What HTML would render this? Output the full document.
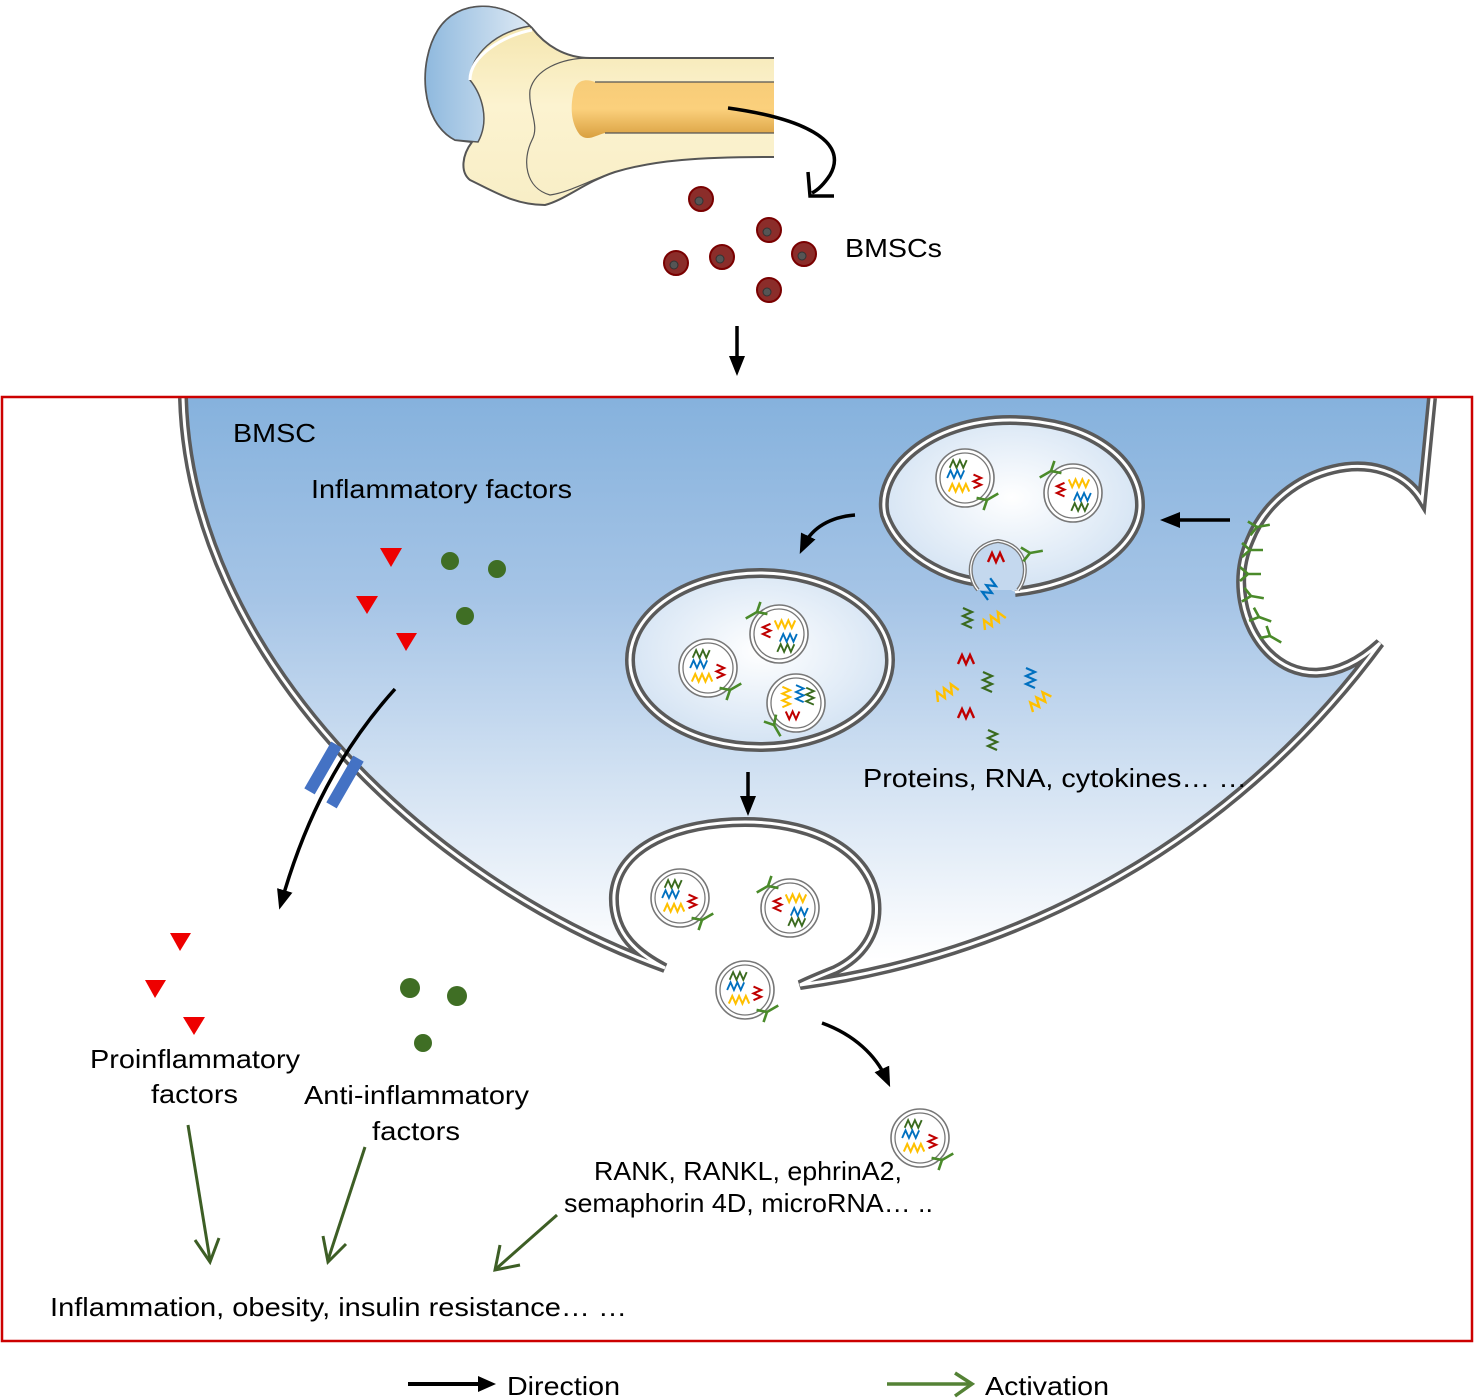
<!DOCTYPE html>
<html><head><meta charset="utf-8"><style>
html,body{margin:0;padding:0;background:#fff;}
svg{display:block;}
text{font-family:"Liberation Sans",sans-serif;font-size:26px;fill:#000;}
</style></head><body>
<svg width="1474" height="1398" viewBox="0 0 1474 1398" xmlns="http://www.w3.org/2000/svg">
<defs>
<linearGradient id="cellg" x1="0" y1="400" x2="0" y2="960" gradientUnits="userSpaceOnUse">
<stop offset="0" stop-color="#86b2dd"/><stop offset="0.35" stop-color="#a5c4e6"/><stop offset="1" stop-color="#ffffff"/></linearGradient>
<radialGradient id="mvb" cx="0.5" cy="0.45" r="0.6"><stop offset="0" stop-color="#ffffff"/><stop offset="1" stop-color="#cfe0f2"/></radialGradient>
<linearGradient id="headg" x1="0" y1="0" x2="1" y2="0"><stop offset="0" stop-color="#8fb9de"/><stop offset="1" stop-color="#dde9f4"/></linearGradient>
<linearGradient id="cavg" x1="0" y1="0" x2="0" y2="1"><stop offset="0" stop-color="#f7cc78"/><stop offset="0.5" stop-color="#fbd07c"/><stop offset="1" stop-color="#d9a040"/></linearGradient>
<linearGradient id="shaftg" x1="0" y1="0" x2="0" y2="1"><stop offset="0" stop-color="#f3e3a8"/><stop offset="0.5" stop-color="#fcf3d0"/><stop offset="1" stop-color="#f8eec6"/></linearGradient>
<marker id="ab" markerWidth="20" markerHeight="20" refX="10" refY="8" orient="auto" markerUnits="userSpaceOnUse" viewBox="0 0 20 16"><path d="M0,0 L20,8 L0,16 Z" fill="#000"/></marker>
<g id="zg"><polyline points="0,0 4,-9 8,0 12,-9 16,0 20,-9" fill="none" stroke="#3a6a1e" stroke-width="2.2"/></g>
<g id="zb"><polyline points="0,0 4,-9 8,0 12,-9 16,0 20,-9" fill="none" stroke="#0070c0" stroke-width="2.2"/></g>
<g id="zr"><polyline points="0,0 4,-9 8,0 12,-9 16,0" fill="none" stroke="#c00000" stroke-width="2.4"/></g>
<g id="zy"><polyline points="0,0 4,-9 8,0 12,-9 16,0 20,-9 24,0" fill="none" stroke="#ffc000" stroke-width="2.4"/></g>
<g id="yy"><path d="M0,0 L0,13 M0,0 L-7,-8 M0,0 L7,-8" fill="none" stroke="#4a8a2a" stroke-width="2.6"/></g>
<g id="ex">
<circle r="29" fill="#fff" stroke="#777" stroke-width="1.6"/>
<circle r="25" fill="none" stroke="#777" stroke-width="1.3"/>
<g transform="scale(0.85)">
<use href="#zg" x="-18" y="-12"/>
<use href="#zb" x="-21" y="0"/>
<use href="#zr" transform="translate(10,-4) rotate(90)"/>
<use href="#zy" x="-19" y="16"/>
</g>
<use href="#yy" transform="translate(22,22) rotate(-120)"/>
</g>
</defs>

<!-- Bone -->
<path d="M775,58 L590,58 C565,58 545,45 532,28 C505,0 458,-2 438,30 C418,62 420,122 455,140 L472,142 C462,155 460,172 470,180 C495,192 515,205 545,205 C565,200 585,182 615,172 C655,160 700,157 775,157 Z" fill="url(#shaftg)" stroke="#555" stroke-width="2"/>
<path d="M530,26 C505,0 458,-2 438,30 C418,62 420,122 455,140 L478,142 C490,120 482,95 470,80 C470,55 495,32 530,26 Z" fill="url(#headg)" stroke="#555" stroke-width="1.5"/>
<path d="M532,30 C505,35 470,55 470,80" fill="none" stroke="#fff" stroke-width="3"/>
<path d="M775,58 L590,58 C560,58 535,70 530,90 C528,110 540,125 532,140 C522,160 525,188 550,195 C570,192 590,180 615,172" fill="none" stroke="#555" stroke-width="1.2"/>
<path d="M775,82 L595,82 C585,78 575,80 573,95 C570,110 572,125 580,135 C588,142 596,135 605,133 L775,133 Z" fill="url(#cavg)"/>
<line x1="595" y1="82" x2="775" y2="82" stroke="#555" stroke-width="1.2"/>
<line x1="605" y1="133" x2="775" y2="133" stroke="#555" stroke-width="1.2"/>
<rect x="774" y="50" width="8" height="115" fill="#fff"/>
<path d="M728,108 C800,118 850,140 830,175 C824,184 818,190 812,193" fill="none" stroke="#000" stroke-width="3.5"/>
<path d="M808,172 L810,196 L834,196" fill="none" stroke="#000" stroke-width="3.5"/>

<!-- BMSCs -->
<g fill="#8b2d2a" stroke="#7a0000" stroke-width="2">
<circle cx="701" cy="199" r="12"/><circle cx="769" cy="230" r="12"/><circle cx="722" cy="257" r="12"/>
<circle cx="804" cy="254" r="12"/><circle cx="676" cy="263" r="12"/><circle cx="769" cy="290" r="12"/></g>
<g fill="#555" stroke="#333" stroke-width="1">
<circle cx="699" cy="201" r="4"/><circle cx="767" cy="232" r="4"/><circle cx="720" cy="259" r="4"/>
<circle cx="802" cy="256" r="4"/><circle cx="674" cy="265" r="4"/><circle cx="767" cy="292" r="4"/></g>
<text x="845" y="257" textLength="97" lengthAdjust="spacingAndGlyphs">BMSCs</text>
<line x1="737" y1="326" x2="737" y2="366" stroke="#000" stroke-width="3.5" marker-end="url(#ab)"/>

<!-- Cell -->
<path d="M183,398 C190,650 420,880 665,968 C640,955 612,935 614,895 C618,845 680,822 745,822 C820,822 870,855 876,900 C880,935 860,958 835,970 C820,976 810,980 800,985 C1050,950 1250,820 1380,643 C1290,725 1215,620 1250,540 C1280,465 1385,440 1422,500 L1432,398 Z" fill="url(#cellg)"/>
<path d="M183,398 C190,650 420,880 665,968 C640,955 612,935 614,895 C618,845 680,822 745,822 C820,822 870,855 876,900 C880,935 860,958 835,970 C820,976 810,980 800,985 C1050,950 1250,820 1380,643 C1290,725 1215,620 1250,540 C1280,465 1385,440 1422,500 L1432,398" fill="none" stroke="#5a5a5a" stroke-width="10"/>
<path d="M183,398 C190,650 420,880 665,968 C640,955 612,935 614,895 C618,845 680,822 745,822 C820,822 870,855 876,900 C880,935 860,958 835,970 C820,976 810,980 800,985 C1050,950 1250,820 1380,643 C1290,725 1215,620 1250,540 C1280,465 1385,440 1422,500 L1432,398" fill="none" stroke="#fff" stroke-width="3"/>
<rect x="0" y="380" width="1474" height="16" fill="#fff"/>
<rect x="2" y="397" width="1470" height="944" fill="none" stroke="#cc0000" stroke-width="2.5"/>

<text x="233" y="442" textLength="83" lengthAdjust="spacingAndGlyphs">BMSC</text>
<text x="311" y="498" textLength="261" lengthAdjust="spacingAndGlyphs">Inflammatory factors</text>

<g fill="#ee0000"><path d="M380,548 L402,548 L391,567 Z"/><path d="M356,596 L378,596 L367,614 Z"/><path d="M396,633 L417,633 L406,651 Z"/>
<path d="M170,933 L191,933 L180,951 Z"/><path d="M145,980 L166,980 L155,998 Z"/><path d="M183,1017 L205,1017 L194,1035 Z"/></g>
<g fill="#3f6e24"><circle cx="450" cy="561" r="9"/><circle cx="497" cy="569" r="9"/><circle cx="465" cy="616" r="9"/>
<circle cx="410" cy="988" r="10"/><circle cx="457" cy="996" r="10"/><circle cx="423" cy="1043" r="9"/></g>

<path d="M395,689 C340,750 305,820 282,900" fill="none" stroke="#000" stroke-width="3.5" marker-end="url(#ab)"/>
<rect x="-6" y="-27" width="12" height="54" fill="#4472c4" transform="translate(323,768) rotate(30)"/>
<rect x="-6" y="-27" width="12" height="54" fill="#4472c4" transform="translate(345,782) rotate(30)"/>

<!-- MVB1 -->
<path d="M995,582 C960,586 900,560 885,515 C875,470 930,420 1010,420 C1090,420 1140,460 1140,505 C1140,550 1080,585 1015,592" fill="url(#mvb)" stroke="#5a5a5a" stroke-width="10"/>
<path d="M995,582 C960,586 900,560 885,515 C875,470 930,420 1010,420 C1090,420 1140,460 1140,505 C1140,550 1080,585 1015,592" fill="none" stroke="#fff" stroke-width="3"/>
<path d="M978,590 C965,575 968,545 998,541 C1028,545 1030,575 1018,590" fill="#c4d8ee" stroke="#777" stroke-width="4"/>
<path d="M978,590 C965,575 968,545 998,541 C1028,545 1030,575 1018,590" fill="none" stroke="#fff" stroke-width="1.3"/>
<use href="#zr" x="988" y="562"/>
<use href="#zb" transform="translate(988,600) rotate(-60)"/>
<use href="#yy" transform="translate(1030,553) rotate(-100)"/>
<use href="#ex" x="965" y="478"/>
<use href="#ex" transform="translate(1073,493) rotate(180)"/>
<line x1="1230" y1="520" x2="1170" y2="520" stroke="#000" stroke-width="3.5" marker-end="url(#ab)"/>
<path d="M855,515 C830,517 812,528 804,545" fill="none" stroke="#000" stroke-width="3.5" marker-end="url(#ab)"/>

<g>
<use href="#yy" transform="translate(1257,527) rotate(-100)"/>
<use href="#yy" transform="translate(1250,550) rotate(-90)"/>
<use href="#yy" transform="translate(1248,574) rotate(-90)"/>
<use href="#yy" transform="translate(1251,596) rotate(-80)"/>
<use href="#yy" transform="translate(1259,617) rotate(-70)"/>
<use href="#yy" transform="translate(1270,636) rotate(-60)"/>
</g>

<use href="#zg" transform="translate(972,628) rotate(-90)"/>
<use href="#zy" transform="translate(985,630) rotate(-30)"/>
<use href="#zr" x="958" y="664"/>
<use href="#zg" transform="translate(992,692) rotate(-90)"/>
<use href="#zb" transform="translate(1035,688) rotate(-90)"/>
<use href="#zy" transform="translate(938,702) rotate(-30)"/>
<use href="#zr" x="958" y="718"/>
<use href="#zy" transform="translate(1033,712) rotate(-40)"/>
<use href="#zg" transform="translate(997,750) rotate(-90)"/>
<text x="863" y="787" textLength="384" lengthAdjust="spacingAndGlyphs">Proteins, RNA, cytokines… …</text>

<!-- MVB2 -->
<ellipse cx="760" cy="660" rx="130" ry="87" fill="url(#mvb)" stroke="#5a5a5a" stroke-width="10"/>
<ellipse cx="760" cy="660" rx="130" ry="87" fill="none" stroke="#fff" stroke-width="3"/>
<use href="#ex" transform="translate(779,634) rotate(180)"/>
<use href="#ex" x="708" y="668"/>
<use href="#ex" transform="translate(796,703) rotate(90)"/>
<line x1="748" y1="772" x2="748" y2="806" stroke="#000" stroke-width="3.5" marker-end="url(#ab)"/>

<use href="#ex" x="680" y="898"/>
<use href="#ex" transform="translate(790,908) rotate(180)"/>
<use href="#ex" x="745" y="990"/>
<path d="M822,1023 C855,1035 876,1056 886,1078" fill="none" stroke="#000" stroke-width="3.5" marker-end="url(#ab)"/>
<use href="#ex" x="920" y="1138"/>

<text x="90" y="1068" textLength="210" lengthAdjust="spacingAndGlyphs">Proinflammatory</text>
<text x="151" y="1103" textLength="87" lengthAdjust="spacingAndGlyphs">factors</text>
<text x="304" y="1104" textLength="225" lengthAdjust="spacingAndGlyphs">Anti-inflammatory</text>
<text x="372" y="1140" textLength="88" lengthAdjust="spacingAndGlyphs">factors</text>
<text x="594" y="1180" textLength="308" lengthAdjust="spacingAndGlyphs">RANK, RANKL, ephrinA2,</text>
<text x="564" y="1212" textLength="369" lengthAdjust="spacingAndGlyphs">semaphorin 4D, microRNA… ..</text>
<text x="50" y="1316" textLength="577" lengthAdjust="spacingAndGlyphs">Inflammation, obesity, insulin resistance… …</text>

<g fill="none" stroke="#3d5e25" stroke-width="3">
<line x1="188" y1="1125" x2="210" y2="1260"/><path d="M195,1240 L210,1262 L219,1238"/>
<line x1="365" y1="1147" x2="328" y2="1260"/><path d="M323,1236 L328,1262 L346,1244"/>
<line x1="557" y1="1215" x2="497" y2="1268"/><path d="M500,1245 L495,1270 L520,1265"/>
</g>

<line x1="408" y1="1384" x2="488" y2="1384" stroke="#000" stroke-width="4"/>
<path d="M478,1376 L496,1384 L478,1392 Z" fill="#000"/>
<text x="507" y="1395" textLength="113" lengthAdjust="spacingAndGlyphs">Direction</text>
<line x1="887" y1="1384" x2="970" y2="1384" stroke="#548235" stroke-width="3.5"/>
<path d="M955,1373 L972,1384 L955,1396" fill="none" stroke="#548235" stroke-width="3.5"/>
<text x="985" y="1395" textLength="124" lengthAdjust="spacingAndGlyphs">Activation</text>
</svg>
</body></html>
